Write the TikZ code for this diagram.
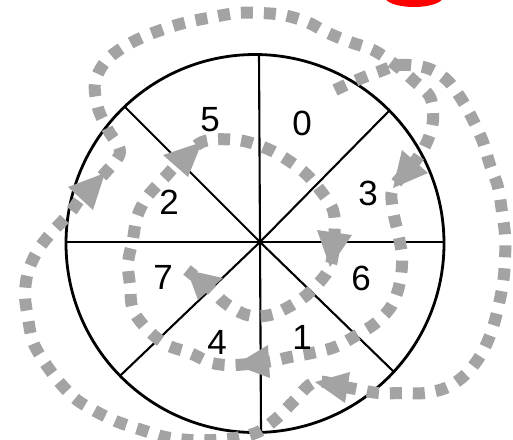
\documentclass[tikz,border=0pt]{standalone}
\usepackage{fontspec}
\setmainfont{Liberation Sans}
\usetikzlibrary{calc}
\definecolor{dotgray}{RGB}{163,163,163}
\tikzset{
  dotline/.style={draw=dotgray, line width=12pt, dash pattern=on 12pt off 11pt},
  headtri/.style={fill=dotgray},
  digit/.style={font=\fontsize{35}{35}\selectfont, inner sep=0pt},
  rim/.style={line width=2.8pt},
  spoke/.style={line width=2.1pt}
}
\begin{document}
\begin{tikzpicture}[x=1pt,y=-1pt]
\useasboundingbox (0,0) rectangle (513,439);
% red blob at the top edge
\fill[red] (414,-3) ellipse [x radius=29, y radius=10];
% wheel
\coordinate (wc) at (255,243.5);
\coordinate (hub) at (260,242);
\begin{scope}
  \clip (wc) circle [radius=189];
  \foreach \ex/\ey in {128/110,387/113,123/373,392/370,259/54,261/430,67/242,445/242}{
    \coordinate (sp) at (\ex,\ey);
    \draw[spoke] (hub) -- ($(hub)!1.08!(sp)$);
  }
\end{scope}
\draw[rim] (wc) circle [radius=189];
% spiral of square dots
\draw[dotline] plot[smooth, tension=0.55] coordinates {
 (335,90) (357,80) (378,72) (400,65) (427,68) (447,80) (462,100) (473,120)
 (483,142) (490,165) (498,187) (502,212) (505,235) (505,260) (503,283)
 (498,308) (492,330) (482,353) (467,373) (448,387) (425,393) (402,393)
 (378,393) (347.5,387.5) (315,382) (293,402) (277,418) (258,432) (235,438)
 (213,440) (190,440) (165,437) (142,430) (118,422) (97,412) (77,400)
 (60,383) (45,363) (33,342) (28,318) (25,295) (28,272) (38,250) (52,232)
 (70,213) (80.5,198.5) (105,173) (120,152) (108,130) (98,108) (95,83)
 (105,62) (122,48) (143,37) (167,28) (188,22) (213,17) (237,13) (260,13)
 (283,15) (307,22) (328,33) (350,42) (373,50) (393,63) (413,80) (430,97)
 (433,120) (427,142) (415,161.5) (393,188) (393,210) (398,233) (402,257)
 (400,282) (392,305) (377,322) (357,335) (335,347) (312,353) (290,357)
 (269,361.5) (235,365) (212,363) (190,353) (167,345) (148,330) (133,310)
 (130,285) (128,263) (133,239) (137,217) (147,197) (167,175) (175.5,166)
 (202,142) (237,140) (263,147) (283,157) (305,173) (320,190) (333,210)
 (334.5,232.5) (330,267) (310,292) (292,305) (270,315) (247,315) (225,303)
 (210.5,289) (187,270)
};
% arrowheads
\fill[headtri] (317,230) -- (352,235) -- (330,267) -- cycle;
\fill[headtri] (187,270) -- (223,278) -- (198,300) -- cycle;
\fill[headtri] (163,155) -- (202,142) -- (188,177) -- cycle;
\fill[headtri] (68,187) -- (105,173) -- (93,210) -- cycle;
\fill[headtri] (402,150) -- (428,173) -- (393,188) -- cycle;
\fill[headtri] (235,365) -- (268,345) -- (270,378) -- cycle;
\fill[headtri] (315,382) -- (350,372) -- (345,403) -- cycle;
% sector numbers
\node[digit] (n5) at (210,120) {5};
\node[digit] (n0) at (302,123) {0};
\node[digit] (n3) at (368,193) {3};
\node[digit] (n2) at (169,202) {2};
\node[digit] (n7) at (163,277) {7};
\node[digit] (n6) at (361,278) {6};
\node[digit] (n4) at (217,342) {4};
\node[digit] (n1) at (302,337) {1};
\end{tikzpicture}
\end{document}
